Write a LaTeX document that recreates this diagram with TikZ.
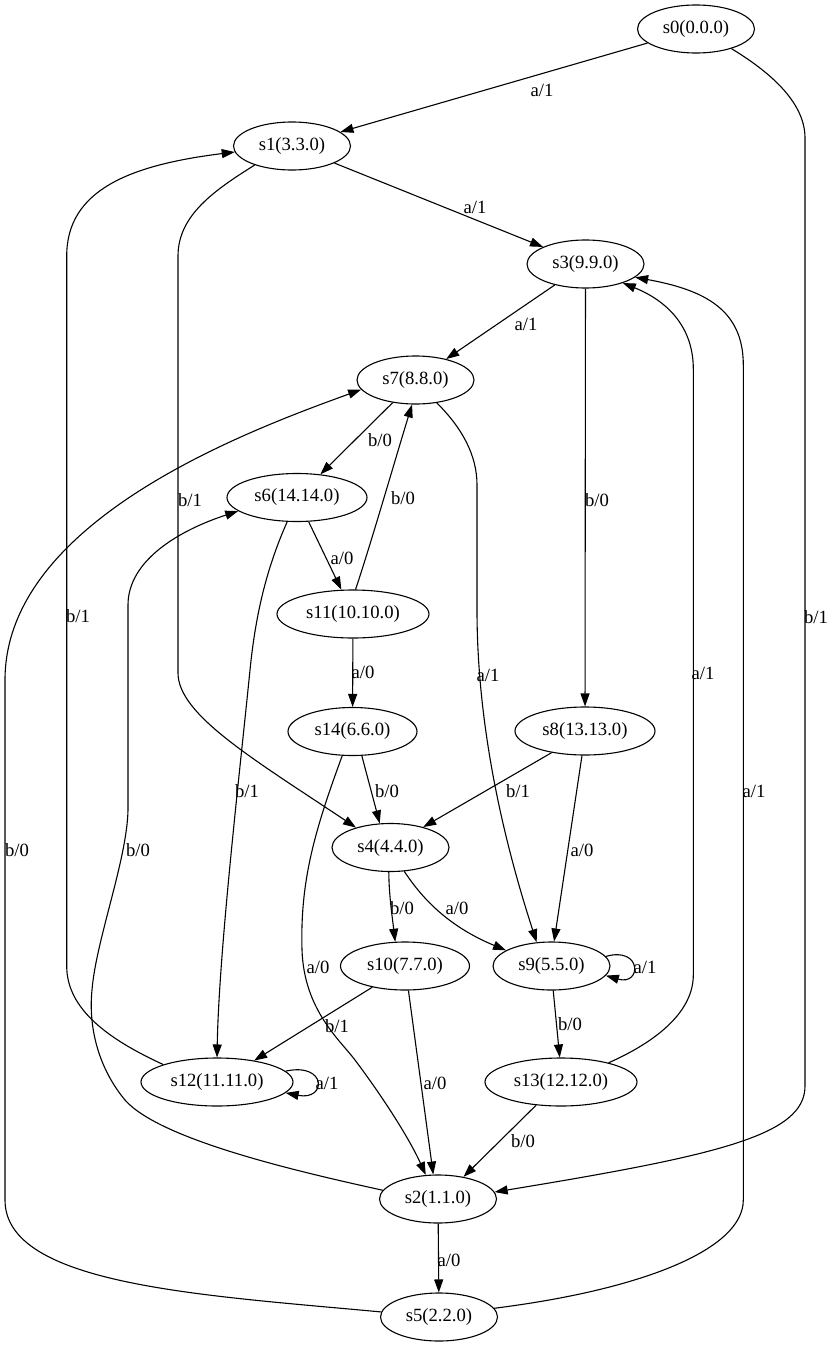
\documentclass[tikz,border=0pt]{standalone}
\usepackage{fontspec}
\setmainfont{Liberation Serif}
\usetikzlibrary{shapes.geometric,arrows.meta}
\begin{document}
\begin{tikzpicture}[x=1pt,y=-1pt,
  every node/.style={font=\fontsize{18.67}{22}\selectfont, inner sep=0pt},
  st/.style={ellipse, draw, line width=1.1pt, minimum height=48pt},
  wa/.style={st, minimum width=117pt},
  wb/.style={st, minimum width=129pt},
  wc/.style={st, minimum width=140pt},
  wd/.style={st, minimum width=152pt},
  tr/.style={draw, line width=1.1pt, -{Triangle[length=13pt,width=9pt]}}]
\useasboundingbox (0,0) rectangle (835,1346);
\fill[white] (0,0) rectangle (835,1346);

% states
\node[wa] (s0)  at (696,29)      {s0(0.0.0)};
\node[wa] (s1)  at (292,146)     {s1(3.3.0)};
\node[wa] (s3)  at (585.5,264)   {s3(9.9.0)};
\node[wa] (s7)  at (415.5,380)   {s7(8.8.0)};
\node[wc] (s6)  at (297,497.5)   {s6(14.14.0)};
\node[wd] (s11) at (353,614)     {s11(10.10.0)};
\node[wb] (s14) at (352.5,731.5) {s14(6.6.0)};
\node[wc] (s8)  at (585,731)     {s8(13.13.0)};
\node[wa] (s4)  at (390.5,847.5) {s4(4.4.0)};
\node[wb] (s10) at (405,966)     {s10(7.7.0)};
\node[wa] (s9)  at (551.5,966)   {s9(5.5.0)};
\node[wd] (s13) at (561,1082)    {s13(12.12.0)};
\node[wd] (s12) at (217,1082)    {s12(11.11.0)};
\node[wa] (s2)  at (438,1199)    {s2(1.1.0)};
\node[wa] (s5)  at (439,1317)    {s5(2.2.0)};

% transitions
\draw[tr] (s0) -- (s1);
\draw[tr] (s0.-29) .. controls (775,75) and (805,105) .. (805,138) -- (805,1086)
  .. controls (805,1135) and (720,1155) .. (s2.7);
\draw[tr] (s1) -- (s3);
\draw[tr] (s1.-153) .. controls (215,190) and (178,215) .. (178,256) -- (178,673)
  .. controls (178,715) and (255,760) .. (s4.150);
\draw[tr] (s3) -- (s7);
\draw[tr] (s3) -- (s8);
\draw[tr] (s7) -- (s6);
\draw[tr] (s7.-47) .. controls (462,428) and (477,455) .. (477,485) -- (477,610)
  .. controls (477,740) and (510,860) .. (s9.122);
\draw[tr] (s6) -- (s11);
\draw[tr] (s6.-112) .. controls (268,565) and (256,610) .. (250,670)
  .. controls (240,770) and (219,950) .. (s12.north);
\draw[tr] (s11.84) .. controls (372,540) and (395,460) .. (s7.-98);
\draw[tr] (s11) -- (s14);
\draw[tr] (s14.-69) -- (s4.114);
\draw[tr] (s14.-113) .. controls (315,830) and (300,880) .. (302,950)
  .. controls (304,1010) and (340,1040) .. (355,1060)
  .. controls (385,1100) and (410,1140) .. (s2.117);
\draw[tr] (s8.-147) -- (s4.32);
\draw[tr] (s8.-97) -- (s9.84);
\draw[tr] (s4.-94) .. controls (389,895) and (392,915) .. (s10.112);
\draw[tr] (s4.-60) .. controls (420,895) and (445,925) .. (s9.161);
\draw[tr] (s9.10) .. controls (642,946) and (642,986) .. (s9.-10);
\draw[tr] (s9.-86) -- (s13.93);
\draw[tr] (s10.-147) -- (s12.30);
\draw[tr] (s10.-82) -- (s2.101);
\draw[tr] (s12.162) .. controls (110,1040) and (66.7,1010) .. (66.7,966) -- (66.7,256)
  .. controls (66.7,190) and (130,165) .. (s1.186);
\draw[tr] (s12.9) .. controls (327,1062) and (327,1101) .. (s12.-9);
\draw[tr] (s13.-137) -- (s2.41);
\draw[tr] (s13.22) .. controls (660,1040) and (693.3,1010) .. (693.3,975) -- (693.3,369)
  .. controls (693.3,325) and (665,300) .. (s3.-27);
\draw[tr] (s2.171) .. controls (300,1172) and (160,1140) .. (125,1100)
  .. controls (100,1070) and (88,1030) .. (92,990)
  .. controls (96,940) and (127,860) .. (128,810) -- (128,605)
  .. controls (128,560) and (180,530) .. (s6.193);
\draw[tr] (s2) -- (s5);
\draw[tr] (s5.175) .. controls (200,1295) and (5,1285) .. (5,1200) -- (5,680)
  .. controls (5,520) and (250,430) .. (s7.190);
\draw[tr] (s5.9) .. controls (640,1290) and (743.3,1250) .. (743.3,1200) -- (743.3,365)
  .. controls (743.3,310) and (705,290) .. (s3.-15);

% transition labels
\node (l1)  at (542,90)    {a/1};
\node (l2)  at (816,617)   {b/1};
\node (l3)  at (475,207)   {a/1};
\node (l4)  at (190,500)   {b/1};
\node (l5)  at (526,324)   {a/1};
\node (l6)  at (597,500)   {b/0};
\node (l7)  at (380,440)   {b/0};
\node (l8)  at (488,675)   {a/1};
\node (l9)  at (342,558)   {a/0};
\node (l10) at (247,791)   {b/1};
\node (l11) at (403,498)   {b/0};
\node (l12) at (363,672)   {a/0};
\node (l13) at (387,791)   {b/0};
\node (l14) at (318,967)   {a/0};
\node (l15) at (518,791)   {b/1};
\node (l16) at (582,850)   {a/0};
\node (l17) at (402,908)   {b/0};
\node (l18) at (457,908)   {a/0};
\node (l19) at (645,967)   {a/1};
\node (l20) at (570,1024)  {b/0};
\node (l21) at (337,1026)  {b/1};
\node (l22) at (435,1083)  {a/0};
\node (l23) at (78,616)    {b/1};
\node (l24) at (327,1083)  {a/1};
\node (l25) at (523,1141)  {b/0};
\node (l26) at (703,673)   {a/1};
\node (l27) at (138,850)   {b/0};
\node (l28) at (449,1260)  {a/0};
\node (l29) at (17,850)    {b/0};
\node (l30) at (754,791)   {a/1};
\end{tikzpicture}
\end{document}
